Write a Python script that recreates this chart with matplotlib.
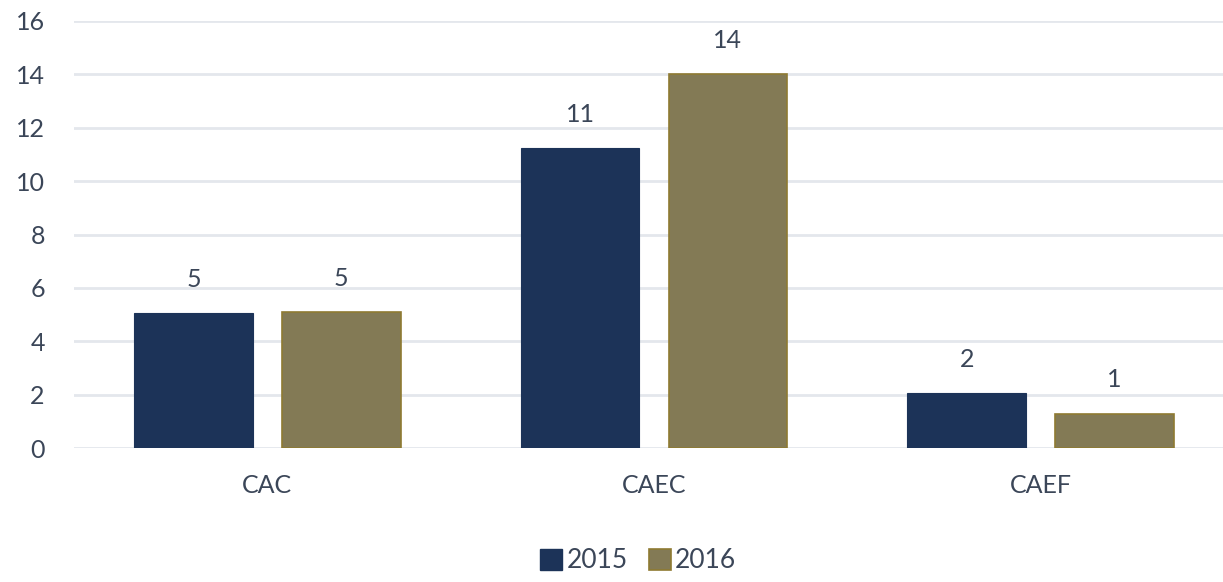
import numpy as np
import matplotlib.pyplot as plt
from matplotlib.patches import Patch

# --- données ---
categories = ["CAC", "CAEC", "CAEF"]
series_names = ["2015", "2016"]
heights_2015 = [5.05, 11.23, 2.05]   # hauteurs
heights_2016 = [5.08, 14.0, 1.29]
labels_2015 = ["5", "11", "2"]
labels_2016 = ["5", "14", "1"]
yticks = [0, 2, 4, 6, 8, 10, 12, 14, 16]

C_2015 = "#1c3358"
C_2016 = "#837a55"
EDGE_2016 = "#8f7a32"
TXT = "#3b4658"
GRID = "#e4e7ec"
FS = 18

plt.rcParams['font.family'] = ['Lato', 'DejaVu Sans']

fig = plt.figure(figsize=(12.23, 5.82), dpi=100)
ax = fig.add_axes([74 / 1223, (582 - 448) / 582, 1160 / 1223, 427 / 582])

x = np.arange(len(categories))
w = 0.307
off = 0.191

b1 = ax.bar(x - off, heights_2015, w, color=C_2015, edgecolor=C_2015, linewidth=0.8, zorder=3)
b2 = ax.bar(x + off, heights_2016, w, color=C_2016, edgecolor=EDGE_2016, linewidth=1.2, zorder=3)

for bars, labs in ((b1, labels_2015), (b2, labels_2016)):
    for r, lab in zip(bars, labs):
        ax.annotate(lab, (r.get_x() + r.get_width() / 2, r.get_height()),
                    xytext=(0, 19), textcoords="offset points",
                    ha="center", va="baseline", fontsize=FS, color=TXT)

ax.set_xlim(-0.5, 2.5)
ax.set_ylim(0, 16)
ax.set_yticks(yticks)
ax.set_yticklabels([str(t) for t in yticks], fontsize=FS, color=TXT)
ax.set_xticks(x)
ax.set_xticklabels(categories, fontsize=FS, color=TXT)
ax.tick_params(axis="both", length=0)
ax.tick_params(axis="y", pad=21)
ax.tick_params(axis="x", pad=19)
ax.yaxis.grid(True, color=GRID, linewidth=2, zorder=0)
ax.set_axisbelow(True)
for s in ax.spines.values():
    s.set_visible(False)

handles = [Patch(facecolor=C_2015, edgecolor=C_2015),
           Patch(facecolor=C_2016, edgecolor=EDGE_2016, linewidth=1.2)]
fig.legend(handles, series_names, loc="center", bbox_to_anchor=(638 / 1223, 1 - 561 / 582),
           ncol=2, frameon=False, fontsize=19, labelcolor=TXT,
           handlelength=0.85, handleheight=0.85, handletextpad=0.15, columnspacing=0.8)

fig.savefig("out.png", dpi=100)
